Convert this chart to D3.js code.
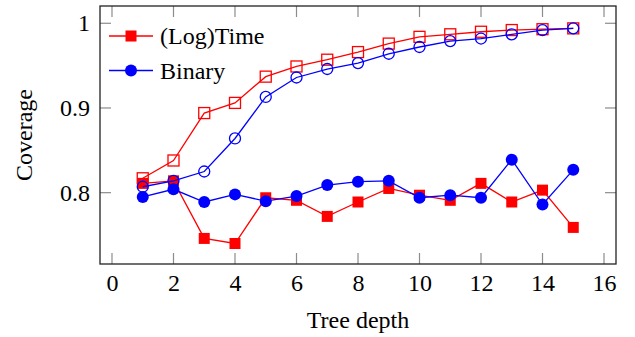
<!DOCTYPE html>
<html>
<head>
<meta charset="utf-8">
<script src="https://cdn.jsdelivr.net/npm/d3@7"></script>
<style>
  body { margin: 0; background: #fff; }
  svg text { font-family: "Liberation Serif", "DejaVu Serif", "Times New Roman", Times, serif; }
</style>
</head>
<body>
<svg width="635" height="337"></svg>
<script>
const width = 635;
const height = 337;
const margin = {left: 100, right: 19, top: 6, bottom: 73};

// tree depths
const depths = [1, 2, 3, 4, 5, 6, 7, 8, 9, 10, 11, 12, 13, 14, 15];

// filled markers (legend entries)
const logTime = [0.811, 0.814, 0.746, 0.740, 0.794, 0.791, 0.772, 0.789, 0.805, 0.797, 0.791, 0.811, 0.789, 0.803, 0.759];
const binary = [0.795, 0.804, 0.789, 0.798, 0.790, 0.796, 0.809, 0.813, 0.814, 0.794, 0.797, 0.794, 0.839, 0.786, 0.827];

// open markers
const logTimeOpen = [0.817, 0.838, 0.894, 0.906, 0.937, 0.949, 0.957, 0.966, 0.976, 0.984, 0.987, 0.990, 0.992, 0.993, 0.994];
const binaryOpen = [0.807, 0.814, 0.825, 0.864, 0.913, 0.936, 0.946, 0.953, 0.964, 0.972, 0.979, 0.982, 0.987, 0.992, 0.994];

const xTicks = [0, 2, 4, 6, 8, 10, 12, 14, 16];
const yTicks = [0.8, 0.9, 1];

const fontFamily = '"Liberation Serif", "DejaVu Serif", "Times New Roman", Times, serif';

const svg = d3.select('svg');

let xScale = d3.scaleLinear()
               .domain([-0.39, 16.39])
               .range([margin.left, width - margin.right]);

let yScale = d3.scaleLinear()
               .domain([0.7158, 1.0204])
               .range([height - margin.bottom, margin.top]);

const fontSize = 24;
const tickLen = 11;

// ticks inside the box, grey
const tickColor = '#8c8c8c';
svg.append('g').selectAll('line')
  .data(xTicks)
  .enter()
  .append('line')
    .attr('x1', d => xScale(d)).attr('x2', d => xScale(d))
    .attr('y1', height - margin.bottom).attr('y2', height - margin.bottom - tickLen)
    .attr('stroke', tickColor).attr('stroke-width', 1.2);
svg.append('g').selectAll('line')
  .data(xTicks)
  .enter()
  .append('line')
    .attr('x1', d => xScale(d)).attr('x2', d => xScale(d))
    .attr('y1', margin.top).attr('y2', margin.top + tickLen)
    .attr('stroke', tickColor).attr('stroke-width', 1.2);
svg.append('g').selectAll('line')
  .data(yTicks)
  .enter()
  .append('line')
    .attr('x1', margin.left).attr('x2', margin.left + tickLen)
    .attr('y1', d => yScale(d)).attr('y2', d => yScale(d))
    .attr('stroke', tickColor).attr('stroke-width', 1.2);
svg.append('g').selectAll('line')
  .data(yTicks)
  .enter()
  .append('line')
    .attr('x1', width - margin.right).attr('x2', width - margin.right - tickLen)
    .attr('y1', d => yScale(d)).attr('y2', d => yScale(d))
    .attr('stroke', tickColor).attr('stroke-width', 1.2);

// X axis labels (axis line hidden, box drawn below)
svg.append('g')
  .attr('transform', 'translate(0,' + (height - margin.bottom) + ')')
  .attr('font-family', fontFamily)
  .call(d3.axisBottom(xScale).tickValues(xTicks).tickSize(0).tickPadding(10))
  .call(g => g.select('.domain').remove())
  .selectAll('text')
    .attr('font-size', fontSize)
    .style('font-family', fontFamily)
    .attr('fill', '#000');

svg.append('g')
  .attr('transform', 'translate(' + margin.left + ',0)')
  .attr('font-family', fontFamily)
  .call(d3.axisLeft(yScale).tickValues(yTicks).tickSize(0).tickPadding(10).tickFormat(d => d === 1 ? '1' : d3.format('.1f')(d)))
  .call(g => g.select('.domain').remove())
  .selectAll('text')
    .attr('font-size', fontSize)
    .style('font-family', fontFamily)
    .attr('fill', '#000');

// box
svg.append('rect')
  .attr('x', margin.left)
  .attr('y', margin.top)
  .attr('width', width - margin.left - margin.right)
  .attr('height', height - margin.top - margin.bottom)
  .attr('fill', 'none')
  .attr('stroke', '#222')
  .attr('stroke-width', 1.3);

svg.append('text')
  .text('Tree depth')
  .style('text-anchor', 'middle')
  .style('font-family', fontFamily)
  .attr('font-size', fontSize)
  .attr('x', (margin.left + width - margin.right) / 2)
  .attr('y', 328);

svg.append('text')
  .text('Coverage')
  .style('text-anchor', 'middle')
  .style('font-family', fontFamily)
  .attr('font-size', fontSize)
  .attr('x', -(margin.top + height - margin.bottom) / 2)
  .attr('y', 32)
  .attr('transform', 'rotate(-90)');

const line = d3.line()
  .x((d, i) => xScale(depths[i]))
  .y(d => yScale(d));

const mk = 11;

function drawSeries(values, color, shape, filled) {
  svg.append('path')
    .datum(values)
    .attr('d', line)
    .attr('fill', 'none')
    .attr('stroke', color)
    .attr('stroke-width', 1.3);
  let g = svg.append('g');
  if (shape === 'square') {
    g.selectAll('rect')
      .data(values)
      .enter()
      .append('rect')
        .attr('x', (d, i) => xScale(depths[i]) - mk / 2)
        .attr('y', d => yScale(d) - mk / 2)
        .attr('width', mk)
        .attr('height', mk)
        .attr('fill', filled ? color : 'none')
        .attr('stroke', color)
        .attr('stroke-width', filled ? 0 : 1.3);
  } else {
    g.selectAll('circle')
      .data(values)
      .enter()
      .append('circle')
        .attr('cx', (d, i) => xScale(depths[i]))
        .attr('cy', d => yScale(d))
        .attr('r', filled ? mk / 2 + 0.5 : mk / 2)
        .attr('fill', filled ? color : 'none')
        .attr('stroke', color)
        .attr('stroke-width', filled ? 0 : 1.3);
  }
}

drawSeries(logTime, '#ff0000', 'square', true);
drawSeries(binary, '#0000ff', 'circle', true);
drawSeries(logTimeOpen, '#ff0000', 'square', false);
drawSeries(binaryOpen, '#0000ff', 'circle', false);

// legend
const legend = [
  {name: '(Log)Time', color: '#ff0000', shape: 'square'},
  {name: 'Binary', color: '#0000ff', shape: 'circle'}
];
const lg = svg.append('g');
legend.forEach((d, i) => {
  let y = 36 + i * 34.5;
  lg.append('line')
    .attr('x1', 109).attr('x2', 153)
    .attr('y1', y).attr('y2', y)
    .attr('stroke', d.color).attr('stroke-width', 1.3);
  if (d.shape === 'square') {
    lg.append('rect')
      .attr('x', 131 - mk / 2).attr('y', y - mk / 2)
      .attr('width', mk).attr('height', mk)
      .attr('fill', d.color);
  } else {
    lg.append('circle')
      .attr('cx', 131).attr('cy', y).attr('r', mk / 2 + 0.5)
      .attr('fill', d.color);
  }
  lg.append('text')
    .text(d.name)
    .style('font-family', fontFamily)
    .attr('x', 160)
    .attr('y', y + 8)
    .attr('font-size', fontSize);
});
</script>
</body>
</html>
